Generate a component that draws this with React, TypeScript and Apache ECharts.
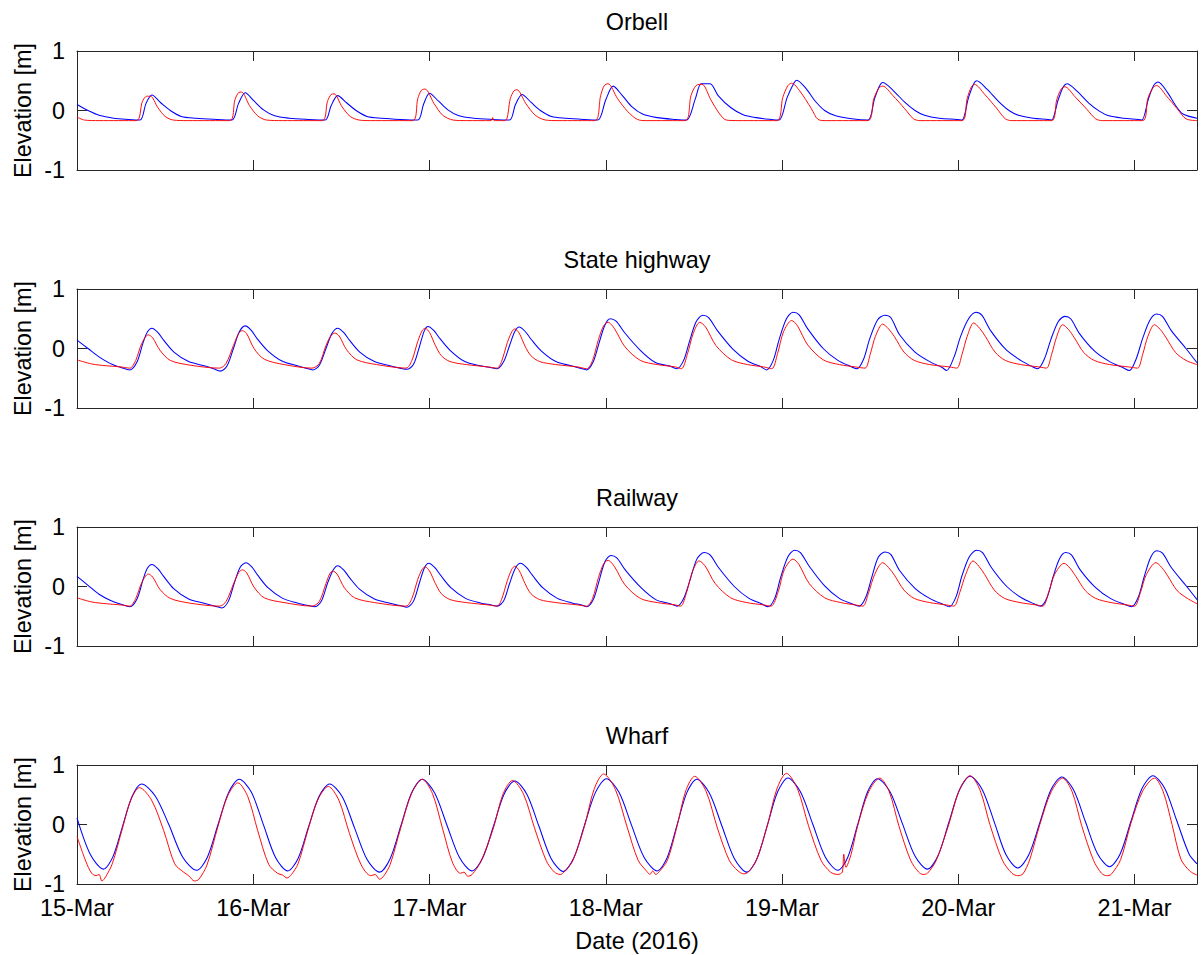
import React, { useEffect, useRef } from 'react';
import * as echarts from 'echarts';

// x values are hours after 15-Mar-2016 00:00
const dayLabels = ['15-Mar', '16-Mar', '17-Mar', '18-Mar', '19-Mar', '20-Mar', '21-Mar'];
const panelTitles = ['Orbell', 'State highway', 'Railway', 'Wharf'];
const yTickValues = [-1, 0, 1];
const xLabel = 'Date (2016)';
const yLabel = 'Elevation [m]';

const orbellBlue = [
  [0, 0.10], [1.5, 0.0], [3, -0.08], [5, -0.13], [7, -0.15],
  [8.6, -0.16], [9.4, 0.12], [10.2, 0.26], [11.4, 0.13], [12.7, 0.0], [14.2, -0.10], [16.2, -0.13], [19.0, -0.15],
  [21.1, -0.16], [22.0, 0.12], [22.9, 0.30], [24.1, 0.16], [25.4, 0.01], [26.9, -0.09], [28.9, -0.13], [31.5, -0.15],
  [33.8, -0.16], [34.6, 0.08], [35.5, 0.25], [36.7, 0.13], [38.0, 0.0], [39.5, -0.10], [41.5, -0.13], [44.0, -0.15],
  [46.4, -0.16], [47.2, 0.11], [48.0, 0.29], [49.2, 0.16], [50.5, 0.01], [52.0, -0.09], [54.0, -0.13], [56.5, -0.15],
  [58.9, -0.16], [59.7, 0.10], [60.6, 0.27], [61.8, 0.14], [63.1, 0.0], [64.6, -0.10], [66.6, -0.13], [69.0, -0.15],
  [70.9, -0.16], [72.0, 0.18], [73.0, 0.41], [74.2, 0.26], [75.5, 0.07], [77.0, -0.06], [79.0, -0.12], [81.5, -0.15],
  [83.0, -0.16], [84.2, 0.20], [85.0, 0.45], [86.2, 0.45], [87.3, 0.25], [89.0, 0.05], [90.7, -0.07], [92.5, -0.12], [94.5, -0.15],
  [95.6, -0.16], [96.7, 0.22], [97.6, 0.46], [98.0, 0.51], [99.2, 0.38], [100.5, 0.16], [101.8, 0.0], [103.3, -0.09], [105.5, -0.14],
  [107.7, -0.16], [108.6, 0.20], [109.3, 0.42], [109.7, 0.47], [111.1, 0.34], [112.7, 0.14], [114.1, 0.0], [115.4, -0.08], [117.4, -0.13], [119.8, -0.15],
  [120.5, -0.16], [121.4, 0.22], [122.1, 0.45], [122.5, 0.50], [123.9, 0.36], [125.5, 0.15], [126.9, 0.0], [128.2, -0.08], [130.2, -0.13], [132.2, -0.15],
  [132.7, -0.16], [133.6, 0.18], [134.3, 0.40], [134.8, 0.45], [136.2, 0.32], [137.8, 0.12], [139.2, -0.01], [140.5, -0.09], [142.5, -0.13], [144.5, -0.15],
  [145.0, -0.16], [145.9, 0.20], [146.6, 0.42], [147.2, 0.48], [148.5, 0.30], [149.5, 0.10], [150.6, -0.06], [152.5, -0.13],
];

const orbellRed = [
  [0, -0.11], [1.0, -0.16], [3, -0.17],
  [8.1, -0.17], [8.9, 0.15], [9.5, 0.24], [10.0, 0.24], [11.0, 0.05], [12.0, -0.10], [13.1, -0.16], [15, -0.17],
  [20.8, -0.17], [21.5, 0.18], [22.0, 0.30], [22.4, 0.31], [23.5, 0.08], [24.6, -0.09], [25.8, -0.16], [28, -0.17],
  [33.4, -0.17], [34.1, 0.15], [34.6, 0.27], [35.0, 0.28], [36.1, 0.06], [37.2, -0.10], [38.4, -0.16], [40, -0.17],
  [45.7, -0.17], [46.4, 0.20], [46.9, 0.34], [47.4, 0.36], [48.6, 0.12], [49.8, -0.08], [51.2, -0.16], [53, -0.17],
  [56.4, -0.17], [56.6, -0.12], [56.8, -0.17],
  [58.3, -0.17], [59.0, 0.20], [59.5, 0.33], [59.9, 0.35], [61.1, 0.12], [62.4, -0.08], [63.8, -0.16], [65.5, -0.17],
  [70.5, -0.17], [71.3, 0.25], [71.8, 0.42], [72.3, 0.45], [73.6, 0.20], [75.0, -0.02], [76.3, -0.15], [77.5, -0.17],
  [82.8, -0.17], [83.6, 0.25], [84.3, 0.42], [85.1, 0.44], [86.3, 0.18], [87.4, -0.04], [88.4, -0.16], [90, -0.17],
  [95.3, -0.17], [96.1, 0.22], [96.8, 0.42], [97.3, 0.46], [98.4, 0.33], [100.0, 0.03], [100.9, -0.15], [102, -0.17],
  [107.7, -0.17], [108.5, 0.20], [109.2, 0.38], [109.7, 0.41], [111.1, 0.25], [112.7, 0.03], [113.9, -0.14], [114.8, -0.17],
  [120.5, -0.17], [121.2, 0.20], [121.8, 0.40], [122.2, 0.44], [123.6, 0.27], [125.2, 0.04], [126.4, -0.14], [127.3, -0.17],
  [132.7, -0.17], [133.4, 0.18], [134.0, 0.36], [134.5, 0.40], [135.9, 0.23], [137.5, 0.02], [138.7, -0.14], [139.6, -0.17],
  [145.1, -0.17], [145.8, 0.20], [146.5, 0.38], [147.0, 0.42], [148.3, 0.25], [149.8, 0.03], [151.0, -0.14], [152.5, -0.17],
];

const highwayBlue = [
  [0, 0.14], [1.5, 0.0], [3.0, -0.14], [4.5, -0.25], [6.0, -0.32], [7.2, -0.36],
  [8.2, -0.22], [9.0, 0.10], [9.6, 0.28], [10.2, 0.34], [11.0, 0.27], [11.8, 0.14], [13.2, -0.06], [15.2, -0.22], [17.3, -0.29], [18.6, -0.34], [19.5, -0.38],
  [20.4, -0.30], [21.3, 0.0], [22.1, 0.28], [22.9, 0.38], [23.7, 0.31], [24.5, 0.17], [25.9, -0.03], [27.9, -0.21], [30.0, -0.29], [31.2, -0.33], [32.1, -0.36],
  [33.0, -0.28], [33.9, 0.0], [34.7, 0.25], [35.5, 0.34], [36.3, 0.27], [37.1, 0.14], [38.5, -0.06], [40.5, -0.22], [42.6, -0.29], [44.0, -0.33], [44.9, -0.35],
  [45.8, -0.27], [46.6, 0.02], [47.3, 0.30], [47.8, 0.37], [48.6, 0.30], [49.4, 0.17], [50.8, -0.03], [52.8, -0.22], [54.9, -0.29], [56.3, -0.32], [57.2, -0.34],
  [58.1, -0.22], [58.9, 0.05], [59.6, 0.28], [60.2, 0.36], [61.0, 0.29], [61.8, 0.16], [63.2, -0.04], [65.2, -0.22], [67.3, -0.29], [68.5, -0.33], [69.4, -0.36],
  [70.3, -0.22], [71.1, 0.10], [71.9, 0.40], [72.6, 0.50], [73.4, 0.46], [74.6, 0.26], [76.7, -0.03], [78.7, -0.23], [80.8, -0.30], [81.7, -0.34],
  [82.6, -0.20], [83.4, 0.12], [84.3, 0.45], [85.2, 0.56], [86.0, 0.52], [87.2, 0.30], [89.3, -0.01], [91.3, -0.21], [93.0, -0.30], [93.9, -0.36],
  [94.8, -0.20], [95.6, 0.15], [96.6, 0.50], [97.5, 0.61], [98.3, 0.57], [99.5, 0.33], [101.6, 0.0], [103.6, -0.20], [105.3, -0.30], [106.2, -0.34],
  [107.1, -0.18], [107.9, 0.15], [109.0, 0.48], [110.0, 0.56], [110.8, 0.52], [112.0, 0.23], [114.1, -0.06], [116.1, -0.22], [117.8, -0.32], [118.4, -0.37],
  [119.4, -0.15], [120.3, 0.20], [121.4, 0.50], [122.4, 0.61], [123.2, 0.56], [124.4, 0.30], [126.5, -0.02], [128.5, -0.20], [130.0, -0.30], [130.8, -0.34],
  [131.7, -0.18], [132.6, 0.15], [133.6, 0.45], [134.5, 0.54], [135.3, 0.50], [136.5, 0.25], [138.6, -0.05], [140.6, -0.22], [142.4, -0.32], [143.3, -0.37],
  [144.2, -0.18], [145.1, 0.17], [146.1, 0.48], [147.0, 0.58], [147.8, 0.54], [149.0, 0.30], [151.0, 0.0], [152.5, -0.24],
];

const highwayRed = [
  [0, -0.19], [2, -0.26], [4, -0.29], [6, -0.31], [7.2, -0.33],
  [8.0, -0.20], [8.8, 0.08], [9.7, 0.23], [10.3, 0.18], [11.3, -0.03], [12.7, -0.20], [15.4, -0.28], [19.4, -0.33],
  [20.3, -0.25], [21.3, 0.05], [22.0, 0.25], [22.5, 0.30], [23.1, 0.25], [24.1, 0.0], [25.5, -0.18], [28.2, -0.27], [32.0, -0.33],
  [33.0, -0.25], [33.9, 0.05], [34.6, 0.22], [35.1, 0.26], [35.7, 0.21], [36.7, -0.02], [38.1, -0.19], [40.8, -0.27], [44.8, -0.33],
  [45.6, -0.20], [46.4, 0.12], [47.0, 0.30], [47.4, 0.34], [48.0, 0.27], [48.8, 0.05], [49.6, -0.12], [50.8, -0.22], [53.0, -0.27], [56.0, -0.31], [57.2, -0.33],
  [57.8, -0.22], [58.6, 0.10], [59.2, 0.28], [59.6, 0.33], [60.2, 0.26], [61.0, 0.04], [61.8, -0.12], [63.0, -0.22], [65.2, -0.27], [68.2, -0.31], [69.4, -0.34],
  [70.2, -0.20], [71.0, 0.15], [71.7, 0.38], [72.3, 0.44], [73.2, 0.33], [74.6, 0.03], [76.7, -0.20], [79.0, -0.27], [81.5, -0.31], [82.3, -0.34],
  [83.1, -0.10], [83.9, 0.25], [84.8, 0.44], [85.6, 0.36], [87.0, 0.05], [89.1, -0.19], [91.3, -0.27], [93.5, -0.31], [94.6, -0.34],
  [95.4, -0.08], [96.2, 0.28], [97.3, 0.47], [98.1, 0.38], [99.5, 0.06], [101.6, -0.19], [103.8, -0.27], [106.0, -0.31], [107.3, -0.33],
  [108.0, -0.10], [108.7, 0.20], [109.7, 0.41], [110.5, 0.33], [111.3, 0.20], [112.6, -0.06], [114.0, -0.20], [116.1, -0.27], [118.8, -0.31], [119.8, -0.33],
  [120.5, -0.10], [121.2, 0.20], [122.1, 0.43], [122.9, 0.34], [123.7, 0.20], [125.0, -0.06], [126.4, -0.20], [128.5, -0.27], [131.0, -0.31], [132.0, -0.33],
  [132.7, -0.10], [133.4, 0.20], [134.2, 0.40], [135.0, 0.32], [135.8, 0.18], [137.1, -0.07], [138.5, -0.20], [140.6, -0.27], [143.2, -0.31], [144.4, -0.33],
  [145.1, -0.10], [145.8, 0.20], [146.7, 0.40], [147.5, 0.32], [148.3, 0.18], [149.6, -0.07], [151.0, -0.20], [152.5, -0.27],
];

const railwayBlue = [
  [0, 0.17], [1.5, 0.02], [3.0, -0.13], [4.5, -0.23], [6.0, -0.30], [7.2, -0.34],
  [8.2, -0.20], [9.0, 0.12], [9.6, 0.31], [10.2, 0.37], [11.0, 0.30], [11.8, 0.17], [13.2, -0.04], [15.2, -0.21], [17.3, -0.28], [18.8, -0.33], [19.7, -0.36],
  [20.6, -0.25], [21.4, 0.05], [22.2, 0.32], [23.0, 0.40], [23.8, 0.33], [24.6, 0.19], [26.0, -0.02], [28.0, -0.20], [30.1, -0.28], [31.5, -0.32], [32.4, -0.34],
  [33.3, -0.24], [34.1, 0.05], [34.9, 0.28], [35.5, 0.35], [36.3, 0.28], [37.1, 0.15], [38.5, -0.05], [40.5, -0.21], [42.6, -0.28], [44.0, -0.32], [44.9, -0.35],
  [45.8, -0.25], [46.6, 0.05], [47.3, 0.31], [47.9, 0.39], [48.7, 0.32], [49.5, 0.19], [50.9, -0.02], [52.9, -0.20], [55.0, -0.28], [56.4, -0.31], [57.2, -0.33],
  [58.1, -0.24], [58.9, 0.05], [59.7, 0.31], [60.4, 0.39], [61.2, 0.32], [62.0, 0.19], [63.4, -0.02], [65.4, -0.20], [67.5, -0.28], [68.7, -0.31], [69.4, -0.34],
  [70.3, -0.22], [71.1, 0.10], [71.9, 0.42], [72.7, 0.52], [73.5, 0.48], [74.7, 0.27], [76.8, -0.02], [78.8, -0.22], [80.8, -0.29], [81.7, -0.33],
  [82.6, -0.20], [83.5, 0.12], [84.4, 0.46], [85.4, 0.57], [86.2, 0.53], [87.4, 0.31], [89.5, 0.0], [91.5, -0.20], [93.2, -0.29], [94.1, -0.34],
  [95.0, -0.20], [95.8, 0.15], [96.8, 0.50], [97.7, 0.61], [98.5, 0.57], [99.7, 0.34], [101.8, 0.01], [103.8, -0.20], [105.5, -0.29], [106.5, -0.33],
  [107.4, -0.18], [108.2, 0.15], [109.1, 0.49], [110.0, 0.58], [110.8, 0.54], [112.0, 0.27], [114.1, -0.03], [116.1, -0.20], [117.9, -0.30], [118.8, -0.34],
  [119.7, -0.17], [120.5, 0.18], [121.5, 0.50], [122.5, 0.61], [123.3, 0.57], [124.5, 0.32], [126.6, 0.0], [128.6, -0.19], [130.3, -0.29], [131.2, -0.33],
  [132.1, -0.18], [132.9, 0.16], [133.8, 0.47], [134.6, 0.57], [135.4, 0.53], [136.6, 0.28], [138.7, -0.02], [140.7, -0.20], [142.6, -0.30], [143.6, -0.34],
  [144.5, -0.18], [145.3, 0.16], [146.2, 0.49], [147.0, 0.60], [147.8, 0.56], [149.0, 0.32], [151.1, 0.0], [152.5, -0.22],
];

const railwayRed = [
  [0, -0.19], [2, -0.26], [4, -0.29], [6, -0.31], [7.2, -0.33],
  [8.0, -0.20], [8.8, 0.06], [9.7, 0.21], [10.3, 0.16], [11.3, -0.05], [12.7, -0.20], [15.4, -0.28], [19.4, -0.33],
  [20.3, -0.25], [21.3, 0.04], [22.0, 0.23], [22.5, 0.28], [23.1, 0.23], [24.1, -0.01], [25.5, -0.19], [28.2, -0.27], [32.0, -0.33],
  [33.0, -0.25], [33.9, 0.05], [34.4, 0.21], [34.8, 0.26], [35.4, 0.21], [36.4, -0.02], [37.8, -0.19], [40.5, -0.27], [44.8, -0.33],
  [45.6, -0.20], [46.4, 0.12], [47.0, 0.29], [47.4, 0.33], [48.0, 0.26], [48.8, 0.05], [49.6, -0.12], [50.8, -0.22], [53.0, -0.27], [56.0, -0.31], [57.2, -0.33],
  [57.8, -0.22], [58.6, 0.10], [59.2, 0.29], [59.6, 0.34], [60.2, 0.27], [61.0, 0.05], [61.8, -0.12], [63.0, -0.22], [65.2, -0.27], [68.2, -0.31], [69.4, -0.33],
  [70.2, -0.20], [71.0, 0.15], [71.7, 0.38], [72.3, 0.44], [73.2, 0.33], [74.6, 0.03], [76.7, -0.20], [79.0, -0.27], [81.5, -0.31], [82.2, -0.33],
  [83.0, -0.10], [83.8, 0.25], [84.7, 0.43], [85.5, 0.35], [86.9, 0.05], [89.0, -0.19], [91.2, -0.27], [93.5, -0.31], [94.5, -0.33],
  [95.5, -0.08], [96.3, 0.28], [97.5, 0.46], [98.3, 0.37], [99.7, 0.05], [101.8, -0.19], [104.0, -0.27], [106.0, -0.31], [107.0, -0.33],
  [107.8, -0.10], [108.6, 0.20], [109.7, 0.40], [110.5, 0.32], [111.3, 0.19], [112.6, -0.06], [114.0, -0.20], [116.1, -0.27], [118.4, -0.31], [119.4, -0.33],
  [120.2, -0.10], [121.0, 0.20], [122.0, 0.43], [122.8, 0.34], [123.6, 0.20], [124.9, -0.06], [126.3, -0.20], [128.4, -0.27], [130.6, -0.31], [131.5, -0.33],
  [132.3, -0.10], [133.1, 0.20], [134.4, 0.39], [135.2, 0.31], [136.0, 0.17], [137.3, -0.07], [138.7, -0.20], [140.8, -0.27], [143.0, -0.31], [144.0, -0.33],
  [144.8, -0.10], [145.6, 0.20], [146.9, 0.40], [147.7, 0.32], [148.5, 0.18], [149.8, -0.07], [151.2, -0.20], [152.5, -0.29],
];

const wharfBlue = [
  [0, 0.11], [1.8, -0.50], [3.6, -0.75], [4.9, -0.54],
  [6.2, -0.03], [7.5, 0.47], [8.8, 0.68], [10.65, 0.48], [12.5, 0.0], [14.4, -0.55], [16.3, -0.77], [17.75, -0.55],
  [19.2, 0.0], [20.65, 0.54], [22.1, 0.76], [23.75, 0.54], [25.4, -0.01], [27.05, -0.56], [28.7, -0.78], [30.1, -0.57],
  [31.5, -0.05], [32.95, 0.47], [34.4, 0.68], [36.1, 0.47], [37.8, -0.06], [39.5, -0.59], [41.2, -0.80], [42.65, -0.57],
  [44.1, -0.02], [45.55, 0.53], [47.0, 0.76], [48.7, 0.53], [50.4, -0.02], [52.1, -0.56], [53.8, -0.78], [55.25, -0.56],
  [56.7, -0.03], [58.15, 0.51], [59.6, 0.73], [61.25, 0.51], [62.9, -0.03], [64.55, -0.57], [66.2, -0.79], [67.65, -0.56],
  [69.1, -0.01], [70.6, 0.54], [72.1, 0.77], [73.8, 0.54], [75.5, -0.01], [77.25, -0.56], [79.0, -0.78], [80.35, -0.56],
  [81.7, -0.01], [83.05, 0.54], [84.4, 0.76], [86.1, 0.53], [87.8, -0.02], [89.5, -0.57], [91.2, -0.80], [92.6, -0.57],
  [94.0, -0.01], [95.4, 0.55], [96.8, 0.78], [98.5, 0.55], [100.2, 0.0], [101.9, -0.55], [103.6, -0.77], [104.95, -0.55],
  [106.3, 0.0], [107.65, 0.55], [109.0, 0.77], [110.7, 0.55], [112.4, 0.01], [114.1, -0.53], [115.8, -0.75], [117.25, -0.52],
  [118.7, 0.03], [120.15, 0.58], [121.6, 0.81], [123.25, 0.59], [124.9, 0.04], [126.5, -0.51], [128.1, -0.73], [129.6, -0.51],
  [131.1, 0.03], [132.6, 0.58], [134.1, 0.80], [135.7, 0.58], [137.3, 0.05], [138.95, -0.49], [140.6, -0.71], [142.05, -0.49],
  [143.5, 0.05], [145.0, 0.60], [146.5, 0.82], [148.1, 0.61], [149.7, 0.08], [151.4, -0.49], [152.5, -0.66],
];

const wharfRed = [
  [0, -0.20], [1.2, -0.62], [2.0, -0.82], [2.6, -0.86], [3.0, -0.84], [3.4, -0.95], [3.9, -0.88], [4.8, -0.66],
  [6.2, -0.06], [7.35, 0.42], [8.5, 0.62], [10.15, 0.41], [11.8, -0.10], [13.3, -0.66], [14.5, -0.80], [15.2, -0.86], [16.0, -0.95], [16.6, -0.92], [17.7, -0.68],
  [19.2, -0.03], [20.55, 0.49], [21.9, 0.70], [23.25, 0.47], [24.6, -0.10], [26.1, -0.67], [27.3, -0.82], [28.0, -0.85], [28.6, -0.90], [29.2, -0.84], [30.1, -0.66],
  [31.5, -0.07], [32.85, 0.43], [34.2, 0.64], [35.65, 0.41], [37.1, -0.15], [38.7, -0.68], [40.0, -0.86], [40.6, -0.84], [41.2, -0.92], [41.8, -0.86], [42.65, -0.67],
  [44.1, -0.05], [45.55, 0.52], [47.0, 0.76], [48.4, 0.52], [49.8, -0.08], [51.1, -0.63], [52.2, -0.82], [52.7, -0.80], [53.2, -0.87], [53.8, -0.84], [55.0, -0.62],
  [56.7, -0.06], [58.0, 0.51], [59.3, 0.74], [60.8, 0.51], [62.3, -0.06], [63.9, -0.61], [65.0, -0.80], [65.8, -0.84], [66.3, -0.80], [67.5, -0.61],
  [69.1, -0.03], [70.4, 0.59], [71.7, 0.85], [73.3, 0.59], [74.9, -0.04], [76.4, -0.60], [77.6, -0.79], [78.0, -0.84], [78.4, -0.78], [78.8, -0.84], [79.3, -0.79], [80.4, -0.60],
  [81.7, -0.03], [82.9, 0.57], [84.1, 0.81], [85.65, 0.56], [87.2, -0.06], [88.8, -0.60], [90.0, -0.78], [90.8, -0.83], [91.4, -0.80], [92.5, -0.60],
  [94.0, -0.02], [95.3, 0.60], [96.6, 0.86], [98.1, 0.60], [99.6, -0.02], [101.3, -0.60], [102.6, -0.80], [103.6, -0.84], [104.2, -0.80], [104.4, -0.50], [104.7, -0.72], [105.4, -0.50],
  [106.3, -0.02], [107.8, 0.55], [109.3, 0.78], [110.6, 0.55], [111.9, -0.02], [113.5, -0.60], [114.6, -0.80], [115.2, -0.84], [115.8, -0.82], [117.0, -0.60],
  [118.7, 0.0], [120.15, 0.58], [121.6, 0.82], [122.95, 0.58], [124.3, 0.0], [126.0, -0.60], [127.3, -0.82], [128.1, -0.86], [128.8, -0.83], [129.7, -0.60],
  [131.1, 0.0], [132.65, 0.55], [134.2, 0.78], [135.5, 0.55], [136.8, -0.02], [138.4, -0.60], [139.5, -0.82], [140.2, -0.86], [140.8, -0.84], [142.1, -0.59],
  [143.5, 0.02], [145.1, 0.56], [146.7, 0.78], [147.9, 0.55], [149.1, 0.0], [150.3, -0.58], [151.5, -0.78], [152.5, -0.85],
];

const panelSeries = [
  [orbellBlue, orbellRed],
  [highwayBlue, highwayRed],
  [railwayBlue, railwayRed],
  [wharfBlue, wharfRed],
];

const FONT = "'Liberation Sans', Arial, Helvetica, sans-serif";
const FONT_SIZE = 23.4;
const GRID_LEFT = 77;
const GRID_WIDTH = 1120;
const GRID_TOPS = [51, 289, 527, 765];
const GRID_HEIGHT = 119;
const AXIS_COLOR = '#262626';
const X_MAX = 152.5;

export default function App() {
  const ref = useRef<HTMLDivElement>(null);

  useEffect(() => {
    if (!ref.current) return;
    const chart = echarts.init(ref.current, null, { renderer: 'svg' });

    const grids: any[] = [];
    const xAxes: any[] = [];
    const yAxes: any[] = [];
    const series: any[] = [];
    const graphics: any[] = [];

    const tickCommon = { show: true, inside: true, length: 10, lineStyle: { color: AXIS_COLOR, width: 1 } };
    const lineCommon = { show: true, onZero: false, lineStyle: { color: AXIS_COLOR, width: 1 } };
    const textStyle = (text: string) => ({
      text, font: `${FONT_SIZE}px ${FONT}`, fill: '#000',
      align: 'center', verticalAlign: 'middle', textAlign: 'center', textVerticalAlign: 'middle',
    });

    GRID_TOPS.forEach((top, i) => {
      grids.push({ left: GRID_LEFT, top, width: GRID_WIDTH, height: GRID_HEIGHT, containLabel: false });
      const xBase = {
        gridIndex: i, type: 'value', min: 0, max: X_MAX, interval: 24,
        axisLine: lineCommon, axisTick: tickCommon, splitLine: { show: false },
      };
      xAxes.push({
        ...xBase, position: 'bottom',
        axisLabel: {
          show: i === 3, margin: 12, fontSize: FONT_SIZE, color: '#000', fontFamily: FONT,
          showMaxLabel: false,
          formatter: (v: number) => (v % 24 === 0 ? dayLabels[v / 24] ?? '' : ''),
        },
      });
      xAxes.push({ ...xBase, position: 'top', axisLabel: { show: false } });
      const yBase = {
        gridIndex: i, type: 'value', min: yTickValues[0], max: yTickValues[yTickValues.length - 1], interval: 1,
        axisLine: lineCommon, axisTick: tickCommon, splitLine: { show: false },
      };
      yAxes.push({
        ...yBase, position: 'left',
        axisLabel: { show: true, margin: 12, fontSize: FONT_SIZE, color: '#000', fontFamily: FONT, formatter: (v: number) => String(v) },
      });
      yAxes.push({ ...yBase, position: 'right', axisLabel: { show: false } });

      const [blue, red] = panelSeries[i];
      series.push({
        type: 'line', xAxisIndex: i * 2, yAxisIndex: i * 2, data: blue, showSymbol: false, symbol: 'none',
        smooth: 0.3, lineStyle: { color: '#0000ff', width: 1.05 }, itemStyle: { color: '#0000ff' }, clip: true, z: 2,
      });
      series.push({
        type: 'line', xAxisIndex: i * 2, yAxisIndex: i * 2, data: red, showSymbol: false, symbol: 'none',
        smooth: 0.3, lineStyle: { color: '#ff0000', width: 0.95 }, itemStyle: { color: '#ff0000' }, clip: true, z: 3,
      });

      graphics.push({ type: 'text', x: GRID_LEFT + GRID_WIDTH / 2, y: top - 29, style: textStyle(panelTitles[i]) });
      graphics.push({ type: 'text', x: 23, y: top + GRID_HEIGHT / 2, rotation: Math.PI / 2, style: textStyle(yLabel) });
    });

    graphics.push({ type: 'text', x: GRID_LEFT + GRID_WIDTH / 2, y: 941, style: textStyle(xLabel) });

    chart.setOption({
      animation: false,
      backgroundColor: '#ffffff',
      grid: grids,
      xAxis: xAxes,
      yAxis: yAxes,
      series,
      graphic: graphics,
    });

    return () => chart.dispose();
  }, []);

  return (
    <div
      ref={ref}
      style={{ position: 'fixed', left: 0, top: 0, width: 1201, height: 955, background: '#fff' }}
    />
  );
}
